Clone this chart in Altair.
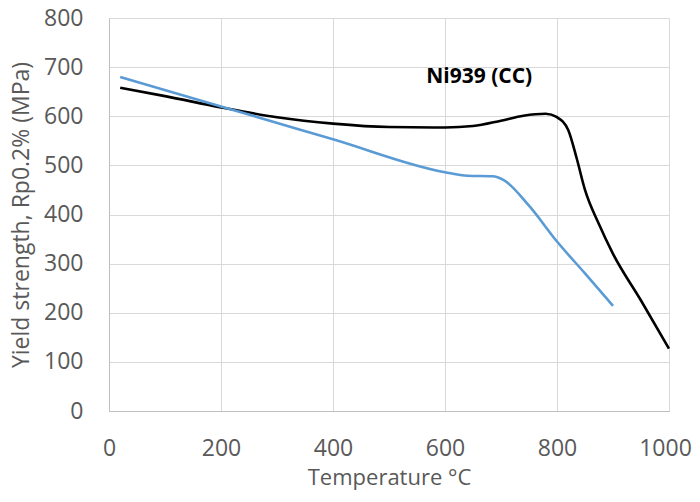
import altair as alt
import pandas as pd

# Ni939 (CC) - black curve
cc_temp = [20, 100, 200, 300, 400, 500, 600, 650, 700, 740, 780, 800, 820, 835, 850, 875, 900, 950, 1000]
cc_ys = [658, 641, 618, 598, 585, 578, 577, 580, 591, 601, 605, 598, 572, 515, 450, 380, 320, 225, 127]

# second (blue) curve
bl_temp = [20, 200, 400, 600, 640, 685, 705, 750, 800, 850, 900]
bl_ys = [680, 620, 553, 486, 479, 478, 470, 418, 345, 280, 214]

label_text = ["Ni939 (CC)"]
label_x = [661]
label_y = [680]

df = pd.DataFrame(
    {"temp": cc_temp + bl_temp,
     "ys": cc_ys + bl_ys,
     "series": ["Ni939 (CC)"] * len(cc_temp) + ["Other"] * len(bl_temp)}
)
lab = pd.DataFrame({"t": label_x, "v": label_y, "txt": label_text})

FONT = "Open Sans"
GREY = "#595959"

x = alt.X("temp:Q", title="Temperature °C",
          scale=alt.Scale(domain=[0, 1000], nice=False),
          axis=alt.Axis(values=[0, 200, 400, 600, 800, 1000], format="d", labelFontSize=23,
                        labelColor=GREY, labelPadding=26, titleFontSize=22,
                        labelOffset={"condition": {"test": "datum.value >= 1000", "value": -4}, "value": 0},
                        titleColor=GREY, titlePadding=7, titleFontWeight="normal",
                        ticks=False, domainColor="#bfbfbf", gridColor="#d9d9d9",
                        labelFont=FONT, titleFont=FONT, labelFlush=False))
y = alt.Y("ys:Q", title="Yield strength, Rp0.2% (MPa)",
          scale=alt.Scale(domain=[0, 800], nice=False),
          axis=alt.Axis(values=[0, 100, 200, 300, 400, 500, 600, 700, 800], labelFontSize=23,
                        labelColor=GREY, labelPadding=26, titleFontSize=23,
                        titleColor=GREY, titlePadding=10, titleFontWeight="normal",
                        ticks=False, domainColor="#bfbfbf", gridColor="#d9d9d9",
                        labelFont=FONT, titleFont=FONT, labelFlush=False))

lines = alt.Chart(df).mark_line(interpolate="monotone", strokeWidth=2.6).encode(
    x=x, y=y,
    color=alt.Color("series:N", scale=alt.Scale(domain=["Ni939 (CC)", "Other"],
                                                range=["#000000", "#5b9bd5"]), legend=None),
    order=alt.Order("temp:Q"),
)

text = alt.Chart(lab).mark_text(fontWeight="bold", fontSize=21, font=FONT, color="#000000").encode(
    x=alt.X("t:Q"), y=alt.Y("v:Q"), text="txt:N"
)

chart = alt.layer(lines, text).properties(
    width=560, height=393,
    autosize=alt.AutoSizeParams(type="none"),
    padding={"left": 101, "top": 10, "right": 23, "bottom": 81},
).configure_view(stroke=None)

chart.save("out.html", embed_options={"renderer": "svg", "actions": False})
